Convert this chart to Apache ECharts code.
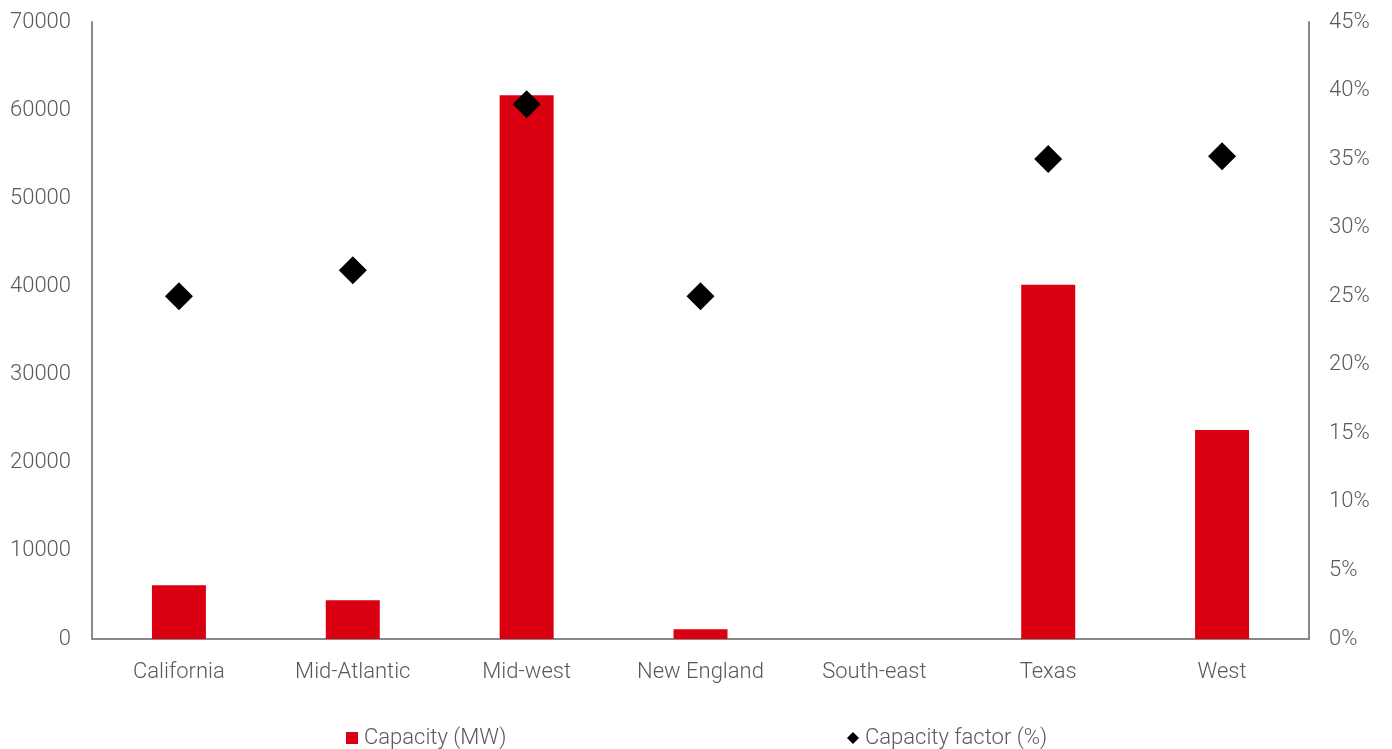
<!DOCTYPE html>
<html>
<head>
<meta charset="utf-8">
<script src="https://cdn.jsdelivr.net/npm/echarts@6/dist/echarts.min.js"></script>
<style>html,body{margin:0;padding:0;background:#fff}#c{width:1392px;height:749px}</style>
</head>
<body>
<div id="c"></div>
<script>
const categories = ['California', 'Mid-Atlantic', 'Mid-west', 'New England', 'South-east', 'Texas', 'West'];
const capacityMW = [6100, 4400, 61700, 1100, 0, 40200, 23700];
const capacityFactor = [25.0, 26.9, 39.0, 25.0, null, 35.0, 35.2];
const seriesNames = ['Capacity (MW)', 'Capacity factor (%)'];

const FONT = 'Roboto';
const TXT = '#595959';
const AXIS = '#898989';
const FS = 22;

const chart = echarts.init(document.getElementById('c'));
chart.setOption({
  animation: false,
  grid: { left: 92, right: 83, top: 22, bottom: 110, containLabel: false },
  legend: [
    { data: [{ name: seriesNames[0], icon: 'rect' }], left: 341, top: 722, itemWidth: 12, itemHeight: 12, itemGap: 6,
      textStyle: { fontFamily: FONT, fontWeight: 300, fontSize: FS, color: TXT, padding: [0,0,0,1] } },
    { data: [{ name: seriesNames[1], icon: 'diamond' }], left: 842, top: 722, itemWidth: 12, itemHeight: 12, itemGap: 6,
      textStyle: { fontFamily: FONT, fontWeight: 300, fontSize: FS, color: TXT, padding: [0,0,0,1] } }
  ],
  xAxis: {
    type: 'category', data: categories,
    axisLine: { lineStyle: { color: AXIS, width: 2 } },
    axisTick: { show: false },
    axisLabel: { fontFamily: FONT, fontWeight: 300, fontSize: FS, color: TXT, margin: 22 }
  },
  yAxis: [
    { type: 'value', min: 0, max: 70000, interval: 10000,
      axisLine: { show: true, lineStyle: { color: AXIS, width: 2 } },
      axisTick: { show: false }, splitLine: { show: false },
      axisLabel: { fontFamily: FONT, fontWeight: 300, fontSize: FS, color: TXT, margin: 21,
        formatter: v => String(v) } },
    { type: 'value', min: 0, max: 45, interval: 5, position: 'right',
      axisLine: { show: true, lineStyle: { color: AXIS, width: 2 } },
      axisTick: { show: false }, splitLine: { show: false },
      axisLabel: { fontFamily: FONT, fontWeight: 300, fontSize: FS, color: TXT, margin: 20, formatter: '{value}%' } }
  ],
  series: [
    { name: seriesNames[0], type: 'bar', data: capacityMW, barWidth: 54, yAxisIndex: 0,
      itemStyle: { color: '#DA0011' } },
    { name: seriesNames[1], type: 'scatter', data: capacityFactor, yAxisIndex: 1,
      symbol: 'diamond', symbolSize: [28, 28], itemStyle: { color: '#000000', opacity: 1 } }
  ]
});
</script>
</body>
</html>
